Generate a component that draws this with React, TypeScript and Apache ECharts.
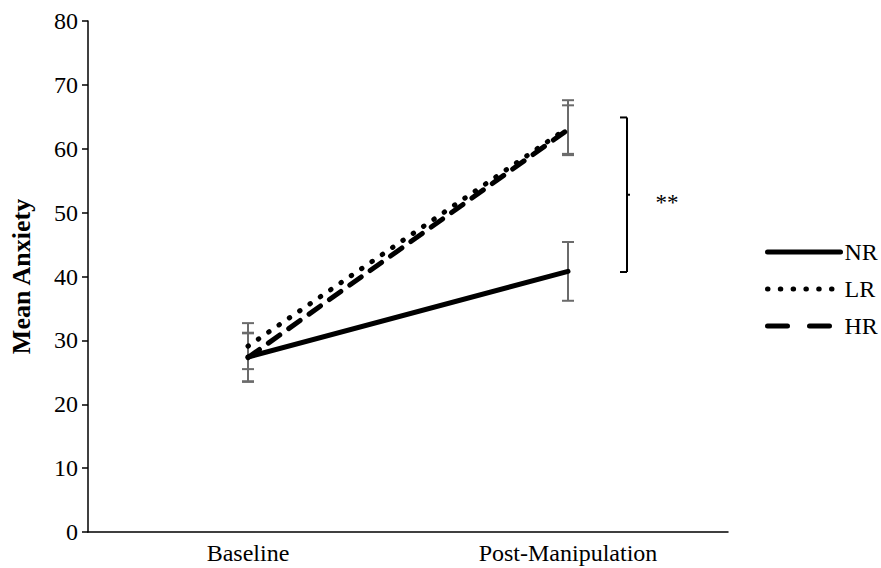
import React, { useEffect, useRef } from "react";
import * as echarts from "echarts";

const categories = ["Baseline", "Post-Manipulation"];
const nrValues = [27.4, 40.8];
const nrErrors = [3.8, 4.6];
const lrValues = [29.1, 63.3];
const lrErrors = [3.6, 4.3];
const hrValues = [27.3, 63.0];
const hrErrors = [3.8, 3.8];
const bracketRange = [40.7, 64.9];
const yTicks = { min: 0, max: 80, interval: 10 };

const FONT = "'Liberation Serif', 'Times New Roman', serif";

function errorData(vals: number[], errs: number[]) {
  return vals.map((v, i) => [i, v - errs[i], v + errs[i]]);
}

function errorSeries(name: string, vals: number[], errs: number[]) {
  return {
    type: "custom",
    name: name + "-err",
    z: 1,
    silent: true,
    data: errorData(vals, errs),
    renderItem: (params: any, api: any) => {
      const x = api.value(0);
      const lo = api.coord([x, api.value(1)]);
      const hi = api.coord([x, api.value(2)]);
      const cap = 6;
      const style = { stroke: "#6b6b6b", lineWidth: 2 };
      return {
        type: "group",
        children: [
          { type: "line", shape: { x1: lo[0], y1: lo[1], x2: hi[0], y2: hi[1] }, style },
          { type: "line", shape: { x1: lo[0] - cap, y1: lo[1], x2: lo[0] + cap, y2: lo[1] }, style },
          { type: "line", shape: { x1: hi[0] - cap, y1: hi[1], x2: hi[0] + cap, y2: hi[1] }, style },
        ],
      };
    },
  };
}

export default function App() {
  const ref = useRef<HTMLDivElement>(null);
  useEffect(() => {
    if (!ref.current) return;
    const chart = echarts.init(ref.current, null, { renderer: "svg" });
    const lineBase = { type: "line", symbol: "none", z: 3, silent: true };
    chart.setOption({
      animation: false,
      backgroundColor: "#ffffff",
      grid: { left: 86, right: 153, top: 21, bottom: 36 },
      legend: {
        orient: "vertical",
        left: 765,
        top: 240,
        itemWidth: 73,
        itemHeight: 14,
        itemGap: 13,
        padding: 0,
        data: [
          { name: "NR" },
          { name: "LR", lineStyle: { type: [0.5, 12.3] } },
          { name: "HR", lineStyle: { type: [20, 22] } },
        ],
        lineStyle: { width: 5, cap: "round", color: "#000" },
        itemStyle: { opacity: 0 },
        textStyle: { fontFamily: FONT, fontSize: 24, color: "#000", padding: [0, 0, 0, -1] },
      },
      xAxis: {
        type: "category",
        data: categories,
        axisLine: { lineStyle: { color: "#000", width: 1.5 } },
        axisTick: { show: false },
        axisLabel: { fontFamily: FONT, fontSize: 24, color: "#000", margin: 9 },
        splitLine: { show: false },
      },
      yAxis: {
        type: "value",
        min: yTicks.min,
        max: yTicks.max,
        interval: yTicks.interval,
        name: "Mean Anxiety",
        nameLocation: "middle",
        nameGap: 54,
        nameTextStyle: { fontFamily: FONT, fontSize: 26, fontWeight: "bold", color: "#000" },
        axisLine: { show: true, lineStyle: { color: "#000", width: 1.5 } },
        axisTick: { show: true, length: 6, lineStyle: { color: "#000", width: 1.5 } },
        axisLabel: { fontFamily: FONT, fontSize: 24, color: "#000", margin: 10 },
        splitLine: { show: false },
      },
      series: [
        errorSeries("NR", nrValues, nrErrors),
        errorSeries("LR", lrValues, lrErrors),
        errorSeries("HR", hrValues, hrErrors),
        {
          ...lineBase,
          name: "NR",
          data: nrValues,
          lineStyle: { color: "#000", width: 5, type: "solid", cap: "round" },
          itemStyle: { color: "#000" },
        },
        {
          ...lineBase,
          name: "LR",
          data: lrValues,
          lineStyle: { color: "#000", width: 5, type: [0.5, 12], cap: "round" },
          itemStyle: { color: "#000" },
        },
        {
          ...lineBase,
          name: "HR",
          data: hrValues,
          lineStyle: { color: "#000", width: 5, type: [14, 11], cap: "round" },
          itemStyle: { color: "#000" },
        },
        {
          type: "custom",
          name: "bracket",
          silent: true,
          z: 2,
          data: [[1, bracketRange[0], bracketRange[1]]],
          renderItem: (params: any, api: any) => {
            const lo = api.coord([api.value(0), api.value(1)]);
            const hi = api.coord([api.value(0), api.value(2)]);
            const x = lo[0] + 59;
            const mid = (lo[1] + hi[1]) / 2;
            const style = { stroke: "#000", lineWidth: 2 };
            return {
              type: "group",
              children: [
                { type: "line", shape: { x1: x, y1: hi[1], x2: x, y2: lo[1] }, style },
                { type: "line", shape: { x1: x - 7, y1: hi[1], x2: x, y2: hi[1] }, style },
                { type: "line", shape: { x1: x - 7, y1: lo[1], x2: x, y2: lo[1] }, style },
                { type: "line", shape: { x1: x, y1: mid, x2: x + 3, y2: mid }, style },
                {
                  type: "text",
                  x: x + 40,
                  y: mid + 8,
                  style: {
                    text: "**",
                    fontFamily: FONT,
                    fontSize: 23,
                    fill: "#000",
                    align: "center",
                    verticalAlign: "middle",
                  },
                },
              ],
            };
          },
        },
      ],
    });
    return () => chart.dispose();
  }, []);
  return <div ref={ref} style={{ width: 881, height: 568, position: "absolute", left: 0, top: 0 }} />;
}
